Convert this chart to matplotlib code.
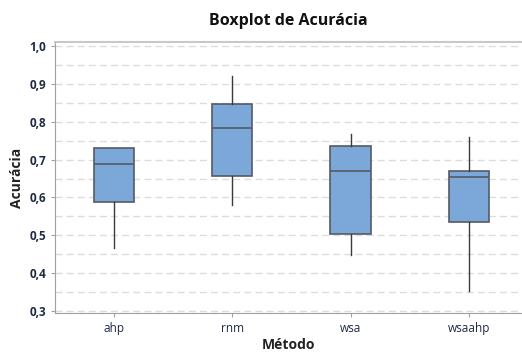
import numpy as np
import matplotlib
matplotlib.use('Agg')
import matplotlib.pyplot as plt

plt.rcParams['font.family'] = ['Open Sans', 'DejaVu Sans']

metodos = ["ahp", "rnm", "wsa", "wsaahp"]
q1 = [0.589, 0.657, 0.504, 0.534]
mediana = [0.688, 0.783, 0.669, 0.653]
q3 = [0.730, 0.848, 0.737, 0.671]
bigode_inf = [0.466, 0.580, 0.448, 0.353]
bigode_sup = [0.730, 0.921, 0.767, 0.759]

stats = []
for i in range(len(metodos)):
    stats.append({"label": metodos[i], "q1": q1[i], "med": mediana[i], "q3": q3[i],
                  "whislo": bigode_inf[i], "whishi": bigode_sup[i], "fliers": []})

fig = plt.figure(figsize=(5.22, 3.52), dpi=100)
ax = fig.add_axes([55/522, 1-313/352, 1-55/522, (313-42)/352])

edge = "#555a63"
ax.bxp(stats, positions=[1, 2, 3, 4], widths=0.34, patch_artist=True, showcaps=False,
       boxprops=dict(facecolor="#7ba7d9", edgecolor=edge, linewidth=1.2),
       medianprops=dict(color=edge, linewidth=1.2),
       whiskerprops=dict(color="#3a3a3a", linewidth=1.0))

ax.set_xlim(0.5, 4.45)
ax.set_ylim(0.295, 1.0106)
ax.set_yticks(np.arange(0.3, 1.01, 0.1))
ax.set_yticklabels(["0,3", "0,4", "0,5", "0,6", "0,7", "0,8", "0,9", "1,0"])
for y in np.arange(0.3, 1.01, 0.05):
    ax.axhline(y, color="#dcdcdc", linestyle=(0, (5, 3)), linewidth=1.0, zorder=0)

ax.spines["right"].set_visible(False)
ax.spines["top"].set_color("#c8c8c8")
ax.spines["top"].set_linewidth(1.5)
ax.spines["left"].set_color("#a0a0a0")
ax.spines["bottom"].set_color("#a0a0a0")
ax.tick_params(axis="y", colors="#a0a0a0", labelcolor="#1f2a44", labelsize=8.5, length=3)
ax.tick_params(axis="x", colors="#a0a0a0", labelcolor="#1f2a44", labelsize=8.5, length=3)
for lab in ax.get_yticklabels():
    lab.set_fontweight("bold")

ax.set_xlabel("Método", fontsize=10, fontweight="bold", color="#222222", labelpad=2)
ax.set_ylabel("Acurácia", fontsize=10, fontweight="bold", color="#222222", labelpad=4)
fig.suptitle("Boxplot de Acurácia", x=(55+522)/2/522, y=1-21/352, va="center",
             fontsize=11.5, fontweight="bold", color="#111111")

fig.savefig("out.png", dpi=100)
